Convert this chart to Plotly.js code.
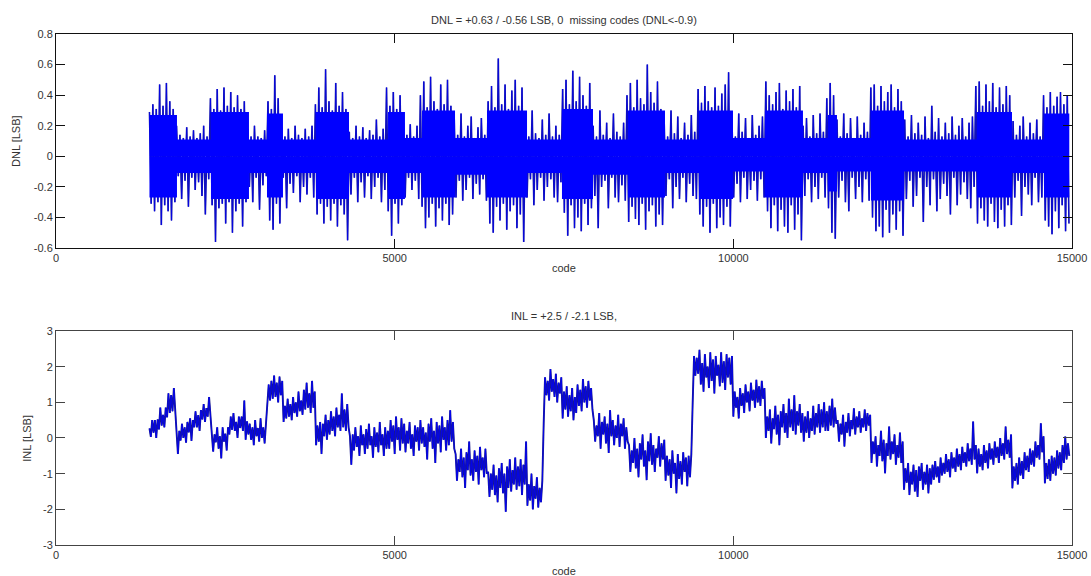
<!DOCTYPE html>
<html>
<head>
<meta charset="utf-8">
<script src="https://cdn.plot.ly/plotly-3.0.1.min.js"></script>
<style>
  html, body { margin: 0; padding: 0; background: #ffffff; }
  #chart { width: 1091px; height: 576px; }
</style>
</head>
<body>
<div id="chart"></div>
<script>
// ---------- DATA ----------
// DNL samples, one every dnlCodeStep codes starting at dnlCodeStart (alternating peak/trough)
const dnlCodeStart = 1380;
const dnlCodeStep = 25;
const dnl = [
  .29,-.31,.34,-.36,.31,-.3,.47,-.45,.33,-.32,.48,-.36,.36,-.42,.31,-.3,
  .2,-.13,.14,-.28,.12,-.16,.19,-.33,.13,-.14,.17,-.22,.12,-.17,.15,-.26,.2,-.38,.13,-.15,
  .38,-.32,.31,-.56,.44,-.34,.3,-.31,.45,-.44,.33,-.3,.42,-.5,.32,-.36,.4,-.31,.31,-.46,.36,-.3,
  .18,-.2,.13,-.3,.2,-.14,.13,-.35,.12,-.19,.17,-.13,
  .36,-.42,.31,-.48,.53,-.31,.38,-.44,
  .19,-.14,.13,-.34,.18,-.18,.12,-.24,.2,-.13,.14,-.3,.12,-.2,.18,-.25,.13,-.14,.2,-.27,
  .34,-.38,.45,-.31,.32,-.44,.57,-.33,.36,-.42,.3,-.31,.48,-.46,.33,-.32,.42,-.38,.31,-.55,
  .16,-.25,.12,-.14,.2,-.3,.13,-.17,.19,-.27,.12,-.13,.17,-.28,.14,-.2,.24,-.14,.13,-.3,.18,-.22,
  .45,-.36,.33,-.52,.42,-.31,.31,-.44,.4,-.32,
  .22,-.27,.14,-.14,.21,-.22,.13,-.16,.2,-.28,
  .4,-.33,.49,-.47,.32,-.4,.52,-.31,.36,-.46,.31,-.34,.47,-.42,.34,-.31,.5,-.45,.33,-.38,
  .24,-.27,.14,-.16,.28,-.29,.13,-.22,.2,-.14,.26,-.28,.12,-.18,.19,-.25,.25,-.15,.14,-.29,
  .36,-.44,.46,-.5,.32,-.33,.64,-.42,.34,-.31,.47,-.48,.31,-.36,.43,-.32,.5,-.47,.33,-.38,.45,-.56,
  .22,-.27,.13,-.15,.3,-.32,.15,-.22,.12,-.14,.24,-.29,.14,-.2,.28,-.15,.13,-.27,.2,-.3,.14,-.17,
  .44,-.37,.5,-.52,.34,-.32,.56,-.47,.36,-.4,.52,-.49,.4,-.31,.33,-.45,.48,-.34,
  .2,-.26,.13,-.47,.3,-.2,.14,-.16,.22,-.34,.12,-.14,.28,-.27,.16,-.3,.13,-.19,.22,-.29,
  .4,-.43,.48,-.33,.32,-.41,.5,-.45,.38,-.31,.34,-.48,.6,-.36,.42,-.32,.35,-.46,.49,-.38,.31,-.45,
  .21,-.26,.13,-.15,.3,-.34,.15,-.2,.26,-.28,.12,-.14,.22,-.3,.14,-.18,.27,-.26,.16,-.28,
  .44,-.38,.35,-.46,.46,-.33,.36,-.5,.32,-.31,.45,-.47,.33,-.4,.41,-.45,.47,-.33,.55,-.46,
  .24,-.27,.13,-.18,.28,-.3,.16,-.14,.25,-.28,.12,-.22,.27,-.16,.14,-.29,.2,-.15,.26,-.27,
  .49,-.36,.4,-.47,.34,-.32,.42,-.49,.48,-.35,.31,-.46,.43,-.5,.36,-.32,.44,-.48,.32,-.38,.46,-.55,
  .2,-.26,.25,-.15,.13,-.3,.27,-.2,.15,-.28,.28,-.14,.16,-.27,
  .38,-.34,.48,-.5,.4,-.54,
  .24,-.27,.13,-.16,.28,-.3,.15,-.36,.25,-.14,.12,-.28,.26,-.2,.14,-.3,.22,-.15,.16,-.29,
  .45,-.4,.47,-.49,.33,-.46,.46,-.53,.36,-.35,.42,-.5,.47,-.38,.32,-.48,.44,-.36,.36,-.52,
  .24,-.28,.13,-.16,.27,-.33,.15,-.26,.22,-.14,.14,-.43,.26,-.2,.12,-.32,.33,-.15,.16,-.36,.25,-.28,
  .13,-.18,.22,-.26,.15,-.38,.26,-.14,.14,-.32,.2,-.25,.25,-.17,.13,-.28,.22,-.34,.26,-.2,
  .46,-.44,.49,-.34,.33,-.42,.47,-.46,.36,-.31,.48,-.43,.32,-.47,.45,-.35,.34,-.46,.46,-.32,.4,-.45,
  .23,-.27,.14,-.16,.2,-.39,.26,-.2,.13,-.25,.22,-.32,.15,-.14,.24,-.3,.13,-.27,
  .4,-.42,.32,-.46,.42,-.51,.33,-.36,.39,-.47,.42,-.32,.34,-.49,.4,-.44
];

// DNL solid core band: segment start codes (last entry = end), upper and lower core level per segment
const dnlSegCodes = [1380,1786,2288,2849,3115,3351,3838,4326,4902,5152,5404,5891,6363,6954,7470,7928,
  8445,8991,9493,9995,10467,11028,11397,11530,12032,12520,13597,14114,14587,14960];
const dnlCoreHi = [.27,.11,.29,.11,.28,.11,.29,.11,.29,.12,.3,.12,.3,.11,.31,.11,.3,.11,.3,.12,
  .3,.12,.27,.12,.3,.11,.29,.11,.28];
const dnlCoreLo = [-.27,-.11,-.28,-.11,-.27,-.11,-.28,-.11,-.28,-.11,-.27,-.12,-.27,-.11,-.28,-.12,-.27,
  -.11,-.28,-.1,-.27,-.11,-.23,-.1,-.29,-.1,-.27,-.11,-.27];

// INL samples, one every inlCodeStep codes starting at inlCodeStart
const inlCodeStart = 1380;
const inlCodeStep = 20;
const inl = [
  .27,.03,.5,.15,.5,0,.52,.24,.85,.35,.65,.3,.85,.58,1.25,.7,1.2,.75,1.4,.75,
  .15,-.45,.2,-.07,.4,0,.3,-.13,.45,.16,.55,-.08,.5,.3,.75,.3,.64,.2,.78,.52,.95,.45,.84,.6,1.15,.6,
  .15,-.38,.1,-.12,.3,-.3,.05,-.57,.3,-.1,.12,-.35,.3,.1,.6,.23,.7,.2,.45,0,.6,.28,.6,.2,1.05,-.05,.47,.1,
  .4,-.05,.3,-.2,.5,.05,.28,-.1,.55,0,.3,-.15,.4,
  .9,1.5,1.05,1.6,1.1,1.75,1.15,1.55,1.0,1.72,1.2,1.6,
  .45,.9,.55,1.1,.6,.95,.5,1.15,.7,1.0,.6,1.3,.75,1.05,.65,1.35,.8,1.55,.85,1.25,.7,1.6,.85,1.3,
  -.2,.35,-.1,.45,-.45,.4,.05,.65,-.05,.5,.1,.75,.2,.6,.05,.85,.3,.65,.2,1.25,.3,.8,.2,.95,.3,
  .05,-.75,.1,-.35,.3,-.25,.05,-.5,.35,-.2,.1,-.45,.25,-.3,.4,-.2,.05,-.55,.3,-.25,.15,-.4,.45,-.2,.1,-.5,.3,-.3,.2,
  -.3,.5,-.1,.35,-.45,.6,-.05,.3,-.35,.55,-.15,.4,
  -.4,.2,-.15,.45,-.3,.1,-.5,.35,-.1,.3,-.35,.5,-.15,
  .3,-.25,.15,-.6,.4,-.1,.55,-.3,.2,-.7,.45,-.15,.35,-.4,.6,-.05,.3,-.35,.5,-.2,.78,-.1,.45,-.3,
  -.45,-1.2,-.6,-.95,-.3,-1.1,-.55,-1.4,-.4,-.9,-.1,-1.05,-.6,-1.2,-.35,-.95,-.5,-1.3,-.25,-.9,-.55,-1.1,-.3,-1.0,
  -.95,-1.65,-1.0,-1.45,-.75,-1.6,-1.05,-1.8,-.85,-1.4,-.7,-1.55,-1.0,-2.07,-.8,-1.4,-.6,-1.5,-.9,-1.3,
  -.55,-1.45,-.8,-1.35,-.6,-1.6,-.75,-1.3,-.1,
  -1.9,-1.3,-1.75,-1.0,-2.0,-1.35,-1.7,-1.1,-1.95,-1.4,-1.8,-1.2,
  .4,1.7,1.2,1.6,1.05,1.93,1.3,1.65,1.15,1.8,1.0,1.55,1.25,1.7,
  .55,1.3,.8,1.45,.6,1.2,.75,1.4,.5,1.15,.7,
  1.5,.9,1.35,.75,1.65,1.0,1.45,.85,1.6,1.05,1.4,.8,
  .5,-.1,.35,.05,.7,-.3,.45,.1,.6,-.15,.4,-.42,.78,.05,.5,-.2,.35,0,.65,-.25,.4,.05,.55,-.3,.3,-.1,
  -.2,-.95,-.35,-.7,0,-.85,-.3,-1.1,-.15,-.6,.1,-.8,-.35,-1.18,-.1,-.65,.13,-.75,-.2,-.95,-.3,-.55,.05,-.8,-.15,-.6,-.05,
  -1.2,-.5,-1.05,-.6,-1.4,-.35,-1.0,-.7,-1.55,-.45,-1.15,-.65,-1.3,-.4,-.95,-.55,-1.35,-.5,-1.1,-.45,
  1.0,2.3,1.75,2.25,1.8,
  2.47,1.5,2.1,1.3,2.35,1.7,2.0,1.4,2.4,1.6,2.2,1.25,2.3,1.75,2.05,1.45,2.4,1.55,2.15,1.35,2.35,1.7,2.25,1.5,2.3,
  .6,1.3,.85,1.15,.55,1.4,.9,1.25,.7,1.5,1.0,1.3,.75,1.55,1.05,1.35,.85,1.63,1.0,1.45,.9,1.6,1.1,1.4,
  0,.6,.2,.8,-.15,.55,.25,.9,.1,.65,-.2,.75,.3,.95,.15,.7,0,1.1,.3,.8,.2,1.2,.1,.75,.35,.95,.15,.7,
  -.1,.6,.15,.75,0,.55,.2,.9,.1,.7,.3,.95,.15,.8,.3,1.0,.2,.75,
  .2,.9,.35,1.1,.3,.85,.4,
  .5,-.1,.4,.1,.65,-.24,.45,.15,.7,.05,.5,.25,.83,.1,.6,.3,.75,.15,.55,.3,.8,.2,.7,.35,.65,
  -.7,-.1,-.45,.05,-.8,-.2,-.5,.2,-.65,-.05,-.99,-.15,-.5,.32,-.6,-.1,-.45,.1,-.75,-.2,-.55,.15,-.7,-.1,
  -1.45,-.85,-1.25,-.7,-1.6,-.95,-1.3,-.75,-1.5,-.9,-1.65,-.8,-1.2,-.7,-1.45,-.95,-1.3,-.75,-1.55,-.85,
  -1.3,-.75,-1.17,-.65,-1.1,-.8,-1.25,-.55,-1.05,-.7,-1.0,-.45,-.95,-.6,-1.1,-.4,-.85,-.55,-.95,-.3,
  -.8,-.45,-.9,-.25,-.7,-.4,-.8,-.15,-.65,-.3,-.75,.46,-.6,-.2,
  -.99,-.3,-.8,-.45,-.9,-.2,-.7,-.35,-.85,-.15,-.6,-.3,-.75,-.1,-.55,-.25,-.7,0,-.5,-.15,-.6,.32,-.45,-.05,-.55,.1,
  -1.41,-.8,-1.2,-.7,-1.3,-.55,-1.05,-.65,-1.15,-.4,-.9,-.5,-.95,-.3,-.75,-.35,-.8,-.1,-.55,-.2,-.6,.41,-.4,.05,
  -1.27,-.7,-1.15,-.6,-1.2,-.5,-1.0,-.55,-1.05,-.35,-.85,-.4,-.9,-.2,-.7,.04,-.6,-.15,-.5
];

// Axis ticks and labels
const xTickVals = [0, 5000, 10000, 15000];
const xTickText = ['0', '5000', '10000', '15000'];
const dnlTickVals = [-0.6, -0.4, -0.2, 0, 0.2, 0.4, 0.6, 0.8];
const dnlTickText = ['-0.6', '-0.4', '-0.2', '0', '0.2', '0.4', '0.6', '0.8'];
const inlTickVals = [-3, -2, -1, 0, 1, 2, 3];
const inlTickText = ['-3', '-2', '-1', '0', '1', '2', '3'];

const dnlTitle = 'DNL = +0.63 / -0.56 LSB, 0\u00a0 missing codes (DNL<-0.9)';
const inlTitle = 'INL = +2.5 / -2.1 LSB,';
const xLabel = 'code';
const dnlYLabel = 'DNL [LSB]';
const inlYLabel = 'INL [LSB]';

// ---------- BUILD ----------
const dnlX = dnl.map((_, i) => dnlCodeStart + i * dnlCodeStep);
const inlX = inl.map((_, i) => inlCodeStart + i * inlCodeStep);
const coreHiY = dnlCoreHi.concat([dnlCoreHi[dnlCoreHi.length - 1]]);
const coreLoY = dnlCoreLo.concat([dnlCoreLo[dnlCoreLo.length - 1]]);

const BLUE = '#0000ff';
const traces = [
  // DNL fine structure (thin dark strokes), then solid blue core on top
  { x: dnlX, y: dnl, xaxis: 'x', yaxis: 'y', type: 'scatter', mode: 'lines',
    line: { color: '#1c1c9c', width: 1.6 }, hoverinfo: 'skip' },
  { x: dnlX, y: dnl, xaxis: 'x', yaxis: 'y', type: 'scatter', mode: 'lines',
    line: { color: '#0000f0', width: 0.6 }, hoverinfo: 'skip' },
  { x: dnlSegCodes, y: coreHiY, xaxis: 'x', yaxis: 'y', type: 'scatter', mode: 'lines',
    line: { color: BLUE, width: 0, shape: 'hv' }, fill: 'tozeroy', fillcolor: BLUE, hoverinfo: 'skip' },
  { x: dnlSegCodes, y: coreLoY, xaxis: 'x', yaxis: 'y', type: 'scatter', mode: 'lines',
    line: { color: BLUE, width: 0, shape: 'hv' }, fill: 'tozeroy', fillcolor: BLUE, hoverinfo: 'skip' },
  // INL: dark outer stroke with a bright blue inner stroke
  { x: inlX, y: inl, xaxis: 'x2', yaxis: 'y2', type: 'scatter', mode: 'lines',
    line: { color: '#1a1a86', width: 1.9 }, hoverinfo: 'skip' },
  { x: inlX, y: inl, xaxis: 'x2', yaxis: 'y2', type: 'scatter', mode: 'lines',
    line: { color: '#0000ff', width: 0.8 }, hoverinfo: 'skip' }
];

const FONT = 'Liberation Sans, Arial, sans-serif';
const TXT = '#333333';
function xAxis(anchor, lc) {
  return { anchor: anchor, range: [0, 15000], tickmode: 'array', tickvals: xTickVals, ticktext: xTickText,
    ticks: 'inside', ticklen: 9, tickwidth: 1, tickcolor: lc, showline: true, linecolor: lc, linewidth: 1,
    mirror: 'ticks', showgrid: false, zeroline: false, tickfont: { family: FONT, size: 11, color: TXT } };
}
function yAxis(anchor, dom, rng, tv, tt, lc) {
  return { anchor: anchor, domain: dom, range: rng, tickmode: 'array', tickvals: tv, ticktext: tt,
    ticks: 'inside', ticklen: 9, tickwidth: 1, tickcolor: lc, showline: true, linecolor: lc, linewidth: 1,
    mirror: 'ticks', showgrid: false, zeroline: false, tickfont: { family: FONT, size: 11, color: TXT } };
}

const layout = {
  width: 1091, height: 576,
  margin: { l: 56, r: 19, t: 34, b: 31, pad: 0 },
  paper_bgcolor: '#ffffff', plot_bgcolor: '#ffffff',
  showlegend: false,
  xaxis: xAxis('y', '#111111'),
  yaxis: yAxis('x', [0.5812, 1], [-0.6, 0.8], dnlTickVals, dnlTickText, '#111111'),
  xaxis2: xAxis('y2', '#444444'),
  yaxis2: yAxis('x2', [0, 0.4188], [-3, 3], inlTickVals, inlTickText, '#444444'),
  annotations: [
    { text: dnlTitle, xref: 'paper', yref: 'paper', x: 0.5, y: 1.0274, xanchor: 'center', yanchor: 'middle',
      showarrow: false, font: { family: FONT, size: 11, color: TXT } },
    { text: inlTitle, xref: 'paper', yref: 'paper', x: 0.5, y: 0.448, xanchor: 'center', yanchor: 'middle',
      showarrow: false, font: { family: FONT, size: 11, color: TXT } },
    { text: xLabel, xref: 'paper', yref: 'paper', x: 0.5, y: 0.542, xanchor: 'center', yanchor: 'middle',
      showarrow: false, font: { family: FONT, size: 11, color: TXT } },
    { text: xLabel, xref: 'paper', yref: 'paper', x: 0.5, y: -0.0509, xanchor: 'center', yanchor: 'middle',
      showarrow: false, font: { family: FONT, size: 11, color: TXT } },
    { text: dnlYLabel, xref: 'paper', yref: 'paper', x: -0.0387, y: 0.79, xanchor: 'center', yanchor: 'middle',
      textangle: -90, showarrow: false, font: { family: FONT, size: 11, color: TXT } },
    { text: inlYLabel, xref: 'paper', yref: 'paper', x: -0.0288, y: 0.2094, xanchor: 'center', yanchor: 'middle',
      textangle: -90, showarrow: false, font: { family: FONT, size: 11, color: TXT } }
  ]
};

Plotly.newPlot('chart', traces, layout, { staticPlot: true, displayModeBar: false });
</script>
</body>
</html>
